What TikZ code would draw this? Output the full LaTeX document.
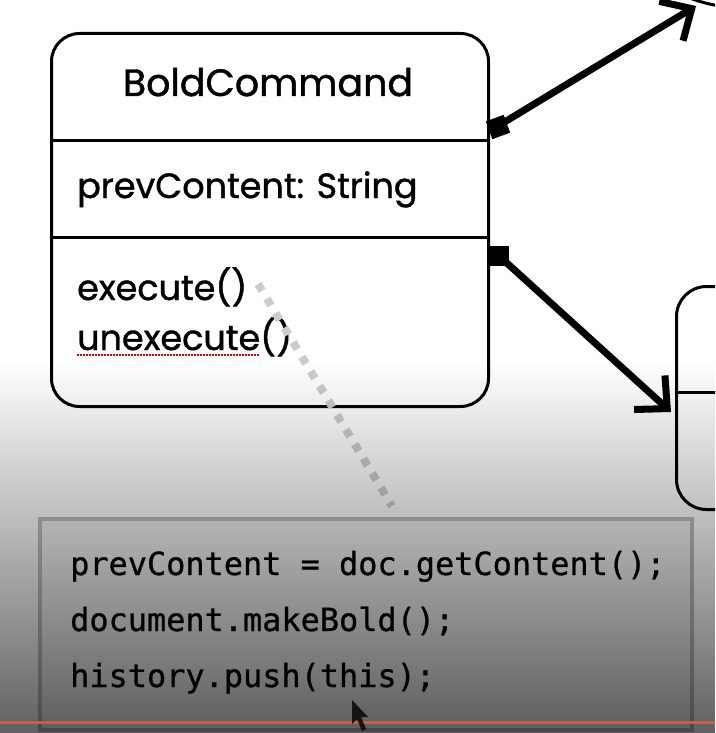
\documentclass[tikz,border=0pt]{standalone}
\usepackage{fontspec}
\usetikzlibrary{arrows.meta,fadings,calc}
\newfontfamily\popfont{Poppins}[FakeBold=1.2]
\newfontfamily\codefont{DejaVu Sans Mono}[FakeBold=0.8]
\definecolor{redline}{HTML}{E8552B}
\tikzfading[name=vfade, top color=transparent!100, bottom color=transparent!0]
\begin{document}
\begin{tikzpicture}[x=1pt,y=-1pt,
  umlbox/.style={draw=black, line width=3pt, rounded corners=28pt, inner sep=0pt, anchor=north west},
  sepline/.style={draw=black, line width=3pt},
  titletext/.style={font=\popfont\fontsize{38}{40}\selectfont, anchor=base, inner sep=0pt},
  membertext/.style={font=\popfont\fontsize{35}{36}\selectfont, anchor=base west, inner sep=0pt},
  codetext/.style={font=\codefont\fontsize{31.9}{36}\selectfont, anchor=base west, inner sep=0pt},
  endsquare/.style={fill=black, inner sep=0pt, outer sep=0pt, shape=rectangle},
  assoc/.style={line width=7pt, -{Straight Barb[length=24pt,width=46pt]}},
  dotline/.style={draw=black!20, line width=8pt, dash pattern=on 8pt off 9pt},
  squiggle/.style={draw=red!85!black, line width=1.5pt, dash pattern=on 1.5pt off 1.5pt},
  codebox/.style={draw=black!25, line width=4pt, fill=black, fill opacity=0.04, draw opacity=1, anchor=north west, inner sep=0pt}
]
\useasboundingbox (0,0) rectangle (715,733);
\clip (0,0) rectangle (715,733);
\fill[white] (0,0) rectangle (715,733);

% main class box
\node[umlbox, minimum width=437pt, minimum height=373pt] (cls) at (50,32) {};
\draw[sepline] (cls.west |- 0,140) -- (cls.east |- 0,140);
\draw[sepline] (cls.west |- 0,237) -- (cls.east |- 0,237);
\node[titletext] (title) at (268,96) {BoldCommand};
\node[membertext] (attr) at (77,198) {prevContent: String};
\node[membertext] (exec) at (77,300) {execute()};
\node[membertext] (unexec) at (77,350) {unexecute()};
\coordinate (sq1) at (77,355);
\coordinate (sq2) at (260,355);
\draw[squiggle] (sq1) -- (sq2);

% right side targets
\node[draw=black, line width=3pt, circle, minimum size=316pt, inner sep=0pt] (tgt) at (745,-150) {};
\node[umlbox, rounded corners=30pt, minimum width=220pt, minimum height=223pt] (box2) at (675,285) {};
\draw[sepline] (box2.west |- 0,392) -- (box2.east |- 0,392);

% associations
\coordinate (a1e) at (696,6);
\coordinate (a2e) at (671,412);
\draw[assoc] (498,126) -- (a1e);
\draw[assoc] (498,255) -- (a2e);
\node[endsquare, minimum size=19pt, rotate=20] (s1) at (498,127) {};
\node[endsquare, minimum size=20pt] (s2) at (498.5,255.5) {};

% code box
\node[codebox, minimum width=652pt, minimum height=211pt] (code) at (38,517) {};
\node[codetext] (c1) at (70,575) {prevContent = doc.getContent();};
\node[codetext] (c2) at (70,631) {document.makeBold();};
\node[codetext] (c3) at (70,687) {history.push(this);};

% dotted note connector
\coordinate (d1) at (258,284);
\coordinate (d2) at (392,506);
\draw[dotline] (d1) -- (d2);

% video darkening overlay
\fill[black, fill opacity=0.62, path fading=vfade] (0,362) rectangle (715,733);

% bottom red line and cursor
\draw[redline, line width=3pt] (0,722.5) -- (715,722.5);
\fill[black, fill opacity=0.8] (352,700) -- (352,724) -- (357,719) -- (362,731) -- (366,729) -- (361,717) -- (368,717) -- cycle;
\end{tikzpicture}
\end{document}
